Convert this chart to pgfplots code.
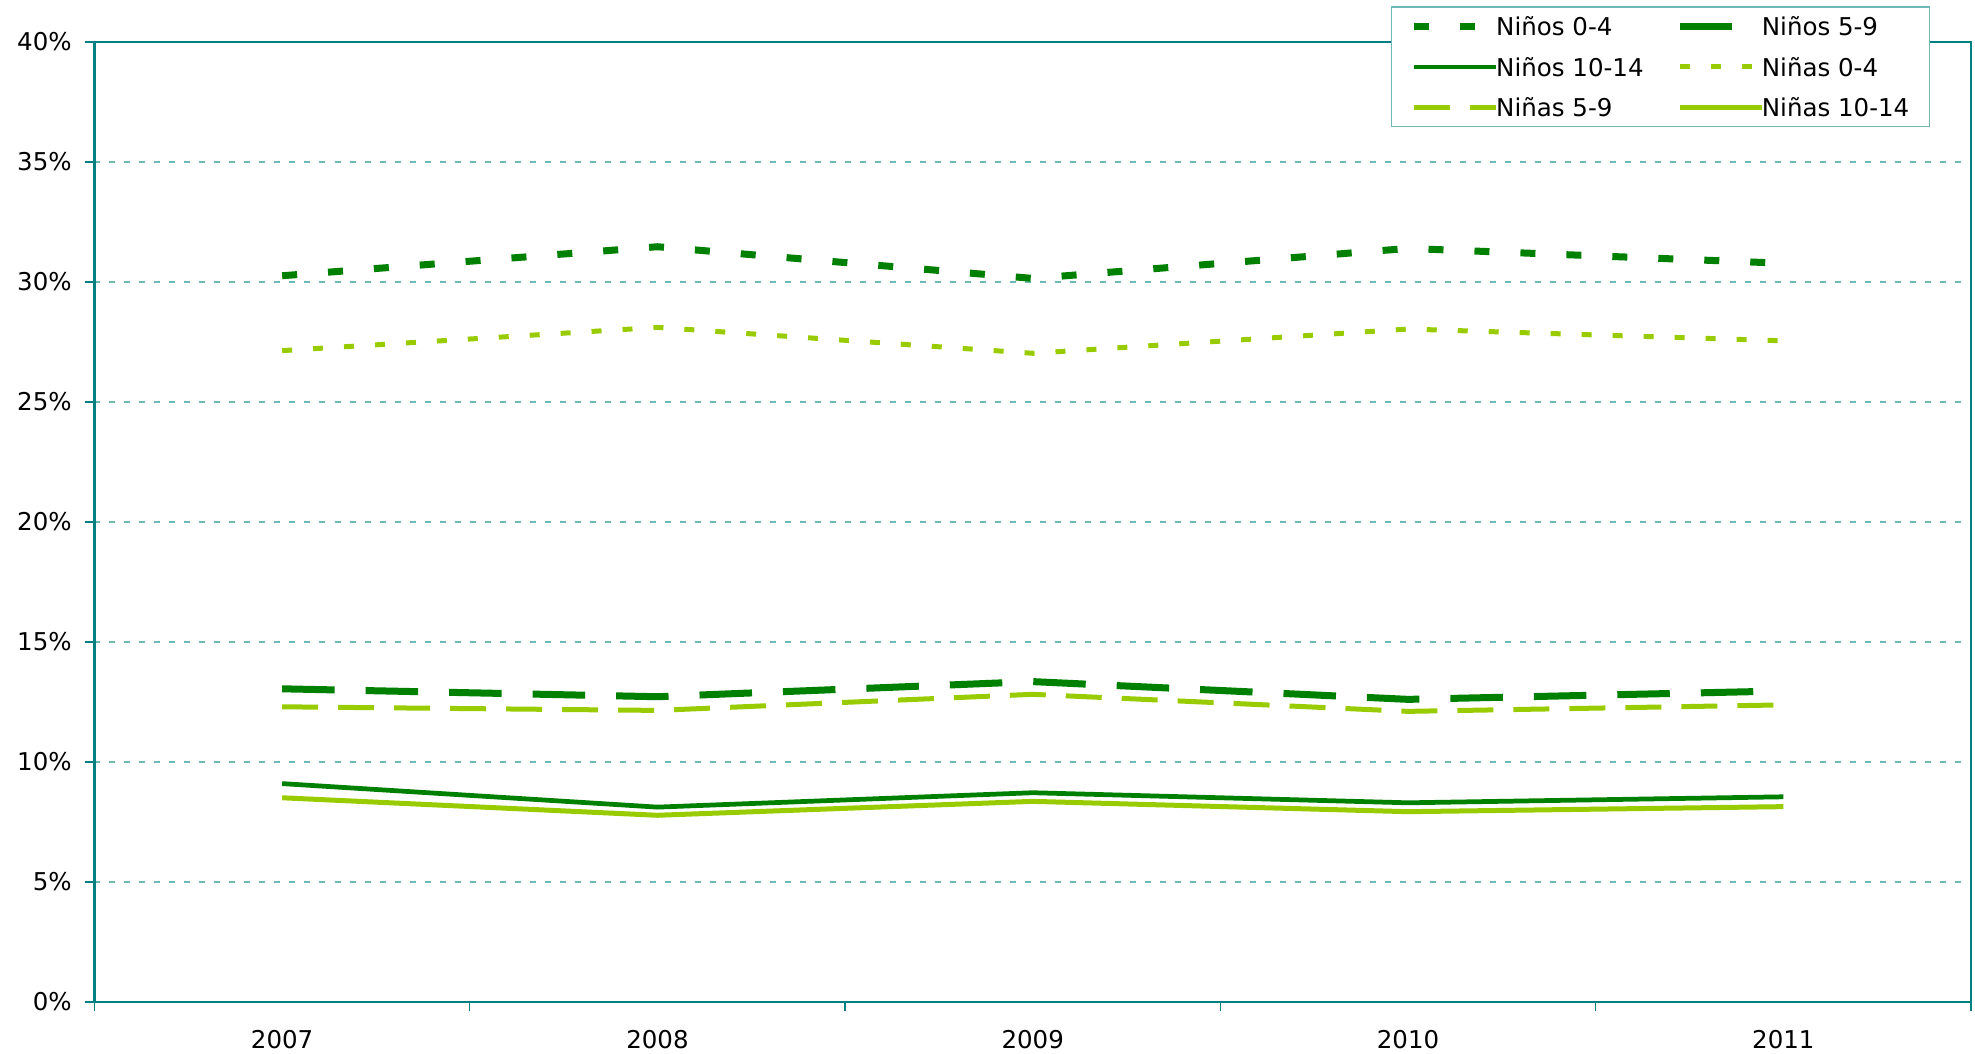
\documentclass[border=0pt]{standalone}
\usepackage{fontspec}
\setmainfont{DejaVu Sans}
\usepackage{pgfplots}
\pgfplotsset{compat=1.18}
\definecolor{dkgreen}{HTML}{008000}
\definecolor{ltgreen}{HTML}{99CC00}
\definecolor{axteal}{HTML}{008080}
\definecolor{gridteal}{HTML}{6FB8B8}
\begin{document}
\begin{tikzpicture}
\useasboundingbox (-37.8pt,-20.4pt) rectangle (752.2pt,400.8pt);
\begin{axis}[
  at={(0pt,0pt)}, anchor=south west,
  scale only axis, width=750.6pt, height=384pt,
  xmin=-0.5, xmax=4.5, ymin=0, ymax=40,
  xtick={0,1,2,3,4}, xticklabels={2007,2008,2009,2010,2011},
  major x tick style={draw=none},
  minor xtick={-0.5,0.5,1.5,2.5,3.5,4.5},
  ytick={0,5,...,40},
  yticklabels={0\%,5\%,10\%,15\%,20\%,25\%,30\%,35\%,40\%},
  tick align=outside, tick pos=left,
  major tick length=3.6pt, minor tick length=3.6pt,
  every tick/.style={axteal, line width=0.5pt},
  axis line style={axteal, line width=1pt},
  ymajorgrids,
  major grid style={gridteal, dash pattern=on 2.4pt off 3.6pt, line width=0.5pt},
  tick label style={font=\fontsize{9.8}{11.8}\selectfont, black},
  xticklabel style={yshift=-4pt},
  yticklabel style={xshift=-2pt},
  legend columns=2,
  legend cell align=left,
  legend image code/.code={\draw[#1] (0pt,0pt) -- (33pt,0pt);},
  legend style={at={(axis description cs:0.6909,1.037)}, anchor=north west,
    draw=gridteal, line width=0.6pt, fill=white,
    font=\fontsize{9.8}{11.8}\selectfont,
    inner xsep=7.5pt, inner ysep=1pt, row sep=2.8pt,
    nodes={inner xsep=0.5pt, inner ysep=0pt, text height=10.4pt, text depth=3pt},
    /tikz/every odd column/.append style={column sep=-2pt},
    /tikz/every even column/.append style={column sep=12.5pt}},
]
\addplot[dkgreen, line width=2.8pt, dash pattern=on 6pt off 12.4pt, mark=none] coordinates {(0,30.26)(1,31.47)(2,30.15)(3,31.40)(4,30.78)};
\addlegendentry{Niños 0-4}
\addplot[dkgreen, line width=2.8pt, dash pattern=on 21pt off 12.4pt, mark=none] coordinates {(0,13.05)(1,12.72)(2,13.35)(3,12.61)(4,12.96)};
\addlegendentry{Niños 5-9}
\addplot[dkgreen, line width=1.9pt, mark=none] coordinates {(0,9.10)(1,8.12)(2,8.72)(3,8.30)(4,8.55)};
\addlegendentry{Niños 10-14}
\addplot[ltgreen, line width=2pt, dash pattern=on 4pt off 8.4pt, mark=none] coordinates {(0,27.14)(1,28.11)(2,27.03)(3,28.04)(4,27.55)};
\addlegendentry{Niñas 0-4}
\addplot[ltgreen, line width=2pt, dash pattern=on 14.4pt off 8pt, mark=none] coordinates {(0,12.30)(1,12.15)(2,12.82)(3,12.11)(4,12.38)};
\addlegendentry{Niñas 5-9}
\addplot[ltgreen, line width=2pt, mark=none] coordinates {(0,8.51)(1,7.78)(2,8.36)(3,7.93)(4,8.14)};
\addlegendentry{Niñas 10-14}
\end{axis}
\end{tikzpicture}
\end{document}
